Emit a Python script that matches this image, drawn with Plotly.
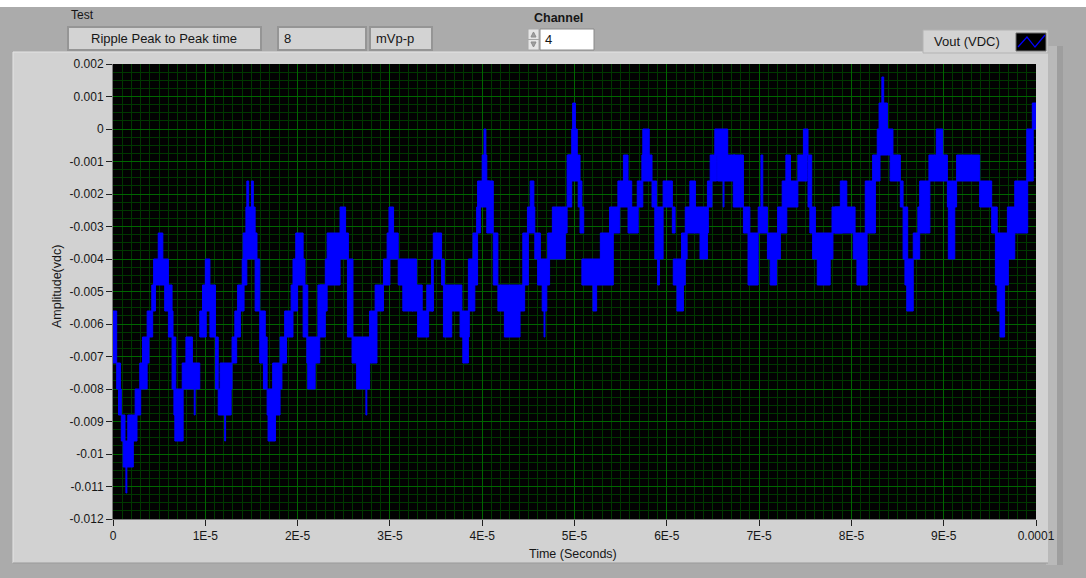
import plotly.graph_objects as go

# ADC resolution of the Vout channel (volts per count)
LSB = 0.0008

# Vout trace, stored as min/max envelope blocks:
# each block covers [t_start_us, t_end_us] and the ADC counts level_lo..level_hi
t_start_us = [
    0.0, 0.4, 0.6, 0.9, 1.1, 1.4, 1.6, 2.4, 2.9, 3.2, 3.7, 4.2, 4.4, 4.9, 5.6, 6.0, 6.4, 6.6, 6.7,
    7.5, 7.9, 8.8, 9.4, 9.7, 10.0, 10.5, 11.1, 11.4, 11.6, 12.1, 12.9, 13.2, 13.5, 14.0, 14.1, 14.4,
    14.5, 15.0, 15.4, 15.9, 16.3, 16.7, 16.8, 17.3, 18.1, 18.6, 19.3, 19.5, 19.8, 20.6, 21.0, 21.1,
    22.2, 22.4, 23.0, 23.2, 24.6, 25.4, 25.9, 26.4, 27.4, 27.8, 28.4, 29.3, 29.7, 29.9,
    30.9, 31.4, 32.4, 33.0, 34.0, 34.5, 34.7, 35.6, 35.8, 35.8, 37.6, 37.9, 38.5, 39.0, 39.4, 39.5,
    40.0, 40.2, 40.5, 41.2, 41.7, 42.4, 42.8, 44.4, 44.9, 45.2, 45.7, 46.0, 46.5, 46.7, 47.1, 47.6,
    48.6, 49.2, 49.3, 49.7, 49.8, 50.4, 50.6, 50.8, 52.8, 52.0, 53.8, 54.7, 55.3, 55.8, 56.8, 57.3,
    57.4, 58.4, 58.7, 59.0, 59.6, 60.6, 60.7, 61.1, 61.6, 62.0, 62.5, 63.3, 63.6,
    64.4, 64.7, 65.2, 65.5, 66.1, 67.2, 68.3, 68.8, 69.9, 70.2, 70.9, 71.2, 72.0, 72.5, 72.9, 74.2,
    74.8, 75.3, 75.5, 75.8, 76.3, 77.9, 78.2, 78.8, 80.2, 80.6, 81.5, 82.3, 82.8, 83.0, 83.3, 83.9,
    84.2, 85.3, 85.6, 85.8, 86.0, 86.7, 87.2, 87.4, 88.4, 89.2, 90.4, 90.5, 91.4, 93.9, 95.2, 95.6,
    95.8, 96.1, 96.9, 97.7, 99.0, 99.6,
]
t_end_us = [
    0.4, 0.8, 0.9, 1.3, 2.2, 1.5, 2.6, 3.0, 3.7, 3.9, 4.3, 4.6, 6.0, 5.4, 6.4, 6.5, 6.8, 7.6, 7.6,
    9.4, 8.6, 8.9, 10.1, 10.5, 10.5, 11.1, 11.4, 12.8, 12.9, 12.2, 13.4, 13.8, 14.2, 14.5, 15.6, 15.4,
    14.7, 15.2, 15.9, 16.5, 16.7, 18.1, 17.6, 18.3, 18.8, 19.5, 20.0, 20.8, 20.6, 21.1, 22.4, 21.9,
    23.0, 23.2, 24.6, 25.5, 25.2, 26.0, 28.6, 27.8, 27.5, 28.6, 29.3, 30.0, 30.9, 30.4,
    32.9, 32.5, 33.5, 34.2, 34.7, 34.7, 35.6, 35.9, 37.8, 36.7, 38.6, 38.5, 39.2, 39.5, 39.8, 40.8,
    40.5, 40.4, 41.2, 41.7, 42.8, 44.1, 44.6, 45.0, 45.7, 45.6, 46.3, 47.3, 47.0, 46.8, 49.0, 48.6,
    49.2, 49.7, 50.6, 50.3, 50.1, 50.8, 51.0, 54.2, 54.2, 52.4, 54.9, 56.2, 55.8, 56.9, 57.4, 58.4,
    58.1, 58.9, 59.6, 59.2, 60.6, 60.9, 62.0, 61.8, 62.2, 63.3, 63.1, 64.5, 64.4,
    64.9, 65.4, 66.6, 67.4, 66.2, 68.3, 69.0, 69.9, 70.9, 70.4, 72.3, 71.9, 73.0, 74.2, 73.4, 75.2,
    75.3, 75.7, 76.1, 78.0, 77.7, 79.0, 80.4, 79.5, 81.7, 81.7, 82.6, 83.1, 83.9, 83.9, 83.5, 84.5,
    85.3, 85.6, 86.1, 86.7, 86.7, 87.4, 88.5, 88.5, 90.4, 89.9, 91.4, 91.2, 93.9, 95.2, 95.8, 97.0,
    96.6, 96.6, 97.7, 99.1, 99.7, 100.0,
]
level_lo = [
    -9, -10, -11, -12, -13, -14, -12, -11, -10, -9, -8, -7, -6, -5, -7, -8, -10, -11, -12,
    -10, -9, -11, -8, -7, -6, -8, -10, -11, -10, -12, -9, -8, -7, -6, -5, -4,
    -3, -3, -7, -9, -10, -11, -12, -10, -9, -8, -7, -6, -5, -8, -9, -10,
    -8, -7, -6, -5, -4, -8, -9, -10, -11, -8, -7, -6, -5, -4,
    -6, -7, -7, -8, -7, -7, -5, -6, -7, -8, -8, -9, -7, -6, -4, -3,
    -2, -1, -4, -6, -7, -8, -7, -6, -4, -3, -5, -6, -7, -8, -5, -4,
    -4, -3, -2, -1, 0, -3, -4, -6, -5, -7, -4, -3, -2, -4, -3, -2,
    -1, -3, -5, -6, -3, -4, -6, -7, -5, -4, -3, -4, -5,
    -3, -2, -1, -2, -3, -3, -4, -6, -4, -3, -5, -6, -4, -3, -2, -2,
    -1, -3, -4, -5, -6, -4, -4, -3, -5, -6, -4, -2, -1, 0, 1, -1,
    -2, -3, -5, -6, -7, -5, -4, -3, -2, -1, -3, -5, -2, -3, -4, -6,
    -7, -8, -5, -4, -2, 0,
]
level_hi = [
    -7, -9, -10, -11, -12, -13, -11, -10, -9, -8, -7, -6, -5, -4, -6, -7, -8, -10, -11,
    -9, -8, -10, -7, -6, -5, -6, -8, -10, -9, -11, -8, -7, -6, -5, -4, -3,
    -2, -2, -5, -7, -8, -10, -11, -9, -8, -7, -6, -5, -4, -6, -8, -9,
    -6, -6, -5, -4, -3, -5, -8, -9, -10, -7, -6, -5, -4, -3,
    -5, -6, -6, -7, -6, -5, -4, -5, -6, -7, -7, -8, -5, -4, -3, -2,
    -1, 0, -2, -4, -6, -7, -6, -4, -3, -2, -4, -5, -6, -7, -4, -3,
    -3, -1, -1, 0, 1, -2, -3, -5, -4, -6, -3, -2, -1, -3, -2, -1,
    0, -2, -3, -5, -2, -3, -5, -6, -4, -3, -2, -3, -4,
    -2, -1, 0, -1, -2, -1, -3, -4, -3, -1, -4, -5, -3, -2, -1, -1,
    0, -1, -3, -4, -5, -3, -3, -2, -4, -5, -2, -1, 0, 1, 2, 0,
    -1, -2, -3, -5, -6, -4, -3, -2, -1, 0, -2, -3, -1, -2, -3, -4,
    -5, -7, -3, -2, 0, 1,
]

x_tick_vals = [0, 1e-5, 2e-5, 3e-5, 4e-5, 5e-5, 6e-5, 7e-5, 8e-5, 9e-5, 1e-4]
x_tick_text = ["0", "1E-5", "2E-5", "3E-5", "4E-5", "5E-5", "6E-5", "7E-5", "8E-5", "9E-5", "0.0001"]
y_tick_vals = [0.002, 0.001, 0, -0.001, -0.002, -0.003, -0.004, -0.005, -0.006,
               -0.007, -0.008, -0.009, -0.01, -0.011, -0.012]
y_tick_text = ["0.002", "0.001", "0", "-0.001", "-0.002", "-0.003", "-0.004", "-0.005", "-0.006",
               "-0.007", "-0.008", "-0.009", "-0.01", "-0.011", "-0.012"]

# Front-panel readouts
test_name = "Ripple Peak to Peak time"
test_value = "8"
test_unit = "mVp-p"
channel = "4"
trace_name = "Vout (VDC)"

# ---- build the envelope polygons (one closed rectangle per block) ----
xs, ys = [], []
for t0, t1, lo, hi in zip(t_start_us, t_end_us, level_lo, level_hi):
    a, b = t0 * 1e-6, t1 * 1e-6
    v0, v1 = lo * LSB, hi * LSB
    xs += [a, b, b, a, a, None]
    ys += [v0, v0, v1, v1, v0, None]

W, H = 1086, 578
L, R, T, B = 113, 1036, 64, 519  # plot-area edges in pixels


def px(x):
    return (x - L) / (R - L)


def py(y):
    return (B - y) / (B - T)


FONT = "Liberation Sans"
TXT = "#161616"

fig = go.Figure()
fig.add_trace(go.Scatter(
    x=xs, y=ys, mode="lines", fill="toself", name=trace_name,
    line=dict(color="#0000ff", width=1), fillcolor="#0000ff",
    hoverinfo="skip", showlegend=False,
))


def rect(x0, y0, x1, y1, fill, line=None, lw=0):
    return dict(type="rect", xref="paper", yref="paper", layer="below",
                x0=px(x0), x1=px(x1), y0=py(y1), y1=py(y0),
                fillcolor=fill, line=dict(color=line or fill, width=lw))


def path(pts, color, width=1, fill=None):
    d = "M " + " L ".join(f"{px(x):.5f},{py(y):.5f}" for x, y in pts)
    if fill:
        d += " Z"
    return dict(type="path", xref="paper", yref="paper", layer="below", path=d,
                line=dict(color=color, width=width), fillcolor=fill or "rgba(0,0,0,0)")


shapes = [
    rect(0, 0, W, 7, "#ffffff"),
    # graph panel and its 3D frame
    rect(1046, 46, 1063, 565, "#b9b9b9"),
    rect(1057, 46, 1063, 565, "#9e9e9e"),
    rect(13, 52, 1048, 563, "#d2d2d2"),
    path([(13, 563), (13, 52), (1048, 52)], "#e4e4e4", 1),
    path([(13, 563), (1048, 563)], "#9a9a9a", 1),
    # plot background
    rect(L, T, R, B, "#020202"),
    # readout boxes
    rect(68, 27, 261, 50, "#d3d3d3", "#959595", 2),
    rect(278, 27, 366, 50, "#d3d3d3", "#959595", 2),
    rect(370, 27, 432, 50, "#d3d3d3", "#959595", 2),
    # channel numeric control
    rect(540, 29, 594, 50, "#ffffff", "#8a8a8a", 1),
    rect(528, 29, 539, 39.5, "#e6e6e6", "#a8a8a8", 1),
    rect(528, 39.5, 539, 50, "#e6e6e6", "#a8a8a8", 1),
    path([(531, 37), (533.5, 32), (536, 37)], "#8c8c8c", 1, "#a0a0a0"),
    path([(531, 42), (533.5, 47), (536, 42)], "#8c8c8c", 1, "#a0a0a0"),
    # plot legend
    rect(923, 30, 1048, 53, "#d3d3d3", "#b3b3b3", 1),
    rect(1016, 33, 1046, 51, "#000000", "#707070", 1),
    path([(1018, 47), (1027, 37), (1035, 47), (1045, 35)], "#0000ff", 1.2),
]

annotations = [
    dict(text="Test", x=px(69), y=py(15), xanchor="left", yanchor="middle",
         font=dict(size=12, color=TXT, family=FONT)),
    dict(text=test_name, x=px(164), y=py(39), xanchor="center", yanchor="middle",
         font=dict(size=13, color=TXT, family=FONT)),
    dict(text=test_value, x=px(282), y=py(39), xanchor="left", yanchor="middle",
         font=dict(size=13, color=TXT, family=FONT)),
    dict(text=test_unit, x=px(374), y=py(39), xanchor="left", yanchor="middle",
         font=dict(size=13, color=TXT, family=FONT)),
    dict(text="<b>Channel</b>", x=px(558), y=py(18), xanchor="center", yanchor="middle",
         font=dict(size=12.5, color=TXT, family=FONT)),
    dict(text=channel, x=px(543), y=py(40), xanchor="left", yanchor="middle",
         font=dict(size=13, color=TXT, family=FONT)),
    dict(text=trace_name, x=px(967), y=py(41.5), xanchor="center", yanchor="middle",
         font=dict(size=13, color=TXT, family=FONT)),
    dict(text="Time (Seconds)", x=px(573), y=py(554), xanchor="center", yanchor="middle",
         font=dict(size=12.5, color=TXT, family=FONT)),
    dict(text="Amplitude(vdc)", x=px(57), y=py(287), xanchor="center", yanchor="middle",
         textangle=-90, font=dict(size=12.5, color=TXT, family=FONT)),
]
for a in annotations:
    a.update(xref="paper", yref="paper", showarrow=False)

MAJOR = "#006600"
MINOR = "#003800"

fig.update_layout(
    width=W, height=H, autosize=False,
    margin=dict(l=L, r=W - R, t=T, b=H - B, pad=0),
    paper_bgcolor="#ababab", plot_bgcolor="#020202",
    shapes=shapes, annotations=annotations,
    hovermode=False,
    xaxis=dict(
        range=[0, 1e-4], tickmode="array", tickvals=x_tick_vals, ticktext=x_tick_text,
        ticks="outside", ticklen=6, tickwidth=1, tickcolor="#202020",
        tickfont=dict(size=12, color=TXT, family=FONT),
        showgrid=True, gridcolor=MAJOR, gridwidth=1, zeroline=False,
        showline=True, linecolor="#7a7a7a", linewidth=1,
        minor=dict(tickmode="linear", tick0=0, dtick=1e-6, showgrid=True,
                   gridcolor=MINOR, gridwidth=1, ticks=""),
        fixedrange=True,
    ),
    yaxis=dict(
        range=[-0.012, 0.002], tickmode="array", tickvals=y_tick_vals, ticktext=y_tick_text,
        ticks="outside", ticklen=6, tickwidth=1, tickcolor="#202020",
        tickfont=dict(size=12, color=TXT, family=FONT),
        showgrid=True, gridcolor=MAJOR, gridwidth=1, zeroline=False,
        showline=True, linecolor="#7a7a7a", linewidth=1,
        minor=dict(tickmode="linear", tick0=0, dtick=0.00025, showgrid=True,
                   gridcolor=MINOR, gridwidth=1, ticks=""),
        fixedrange=True,
    ),
)

fig.write_html("out.html", config={"displayModeBar": False})
